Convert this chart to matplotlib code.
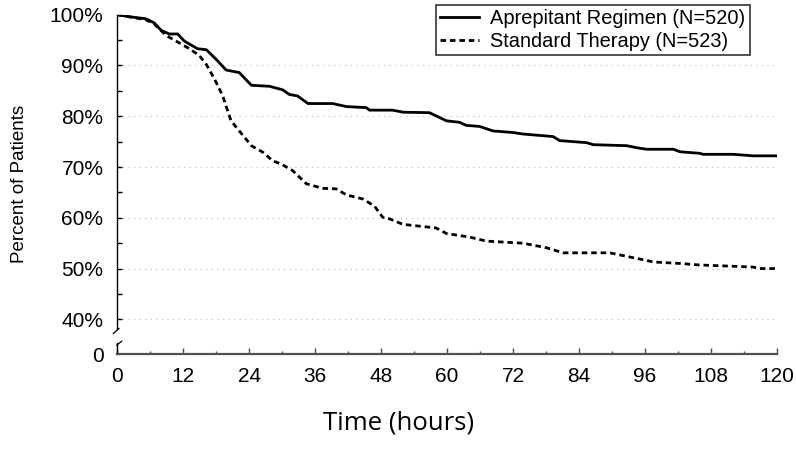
import matplotlib
matplotlib.use("Agg")
import matplotlib.pyplot as plt
from matplotlib.ticker import FixedLocator, MultipleLocator

# ---- data ----
apr_t = [0, 2.2, 5.2, 6.7, 8.0, 9.5, 11.0, 12.2, 14.6, 16.2, 18.0, 19.8, 22.2, 24.4,
         27.7, 30.1, 31.3, 32.8, 34.7, 39.2, 41.7, 45.3, 45.9, 50.1, 52.0, 56.8, 59.9,
         62.3, 63.5, 65.9, 68.4, 72.0, 73.8, 79.3, 80.5, 85.4, 86.6, 92.7, 94.5, 96.3,
         101.2, 102.4, 106.0, 106.6, 112.1, 113.3, 115.7, 120]
apr_v = [100, 99.6, 99.2, 98.4, 96.9, 96.2, 96.2, 94.8, 93.3, 93.1, 91.2, 89.1, 88.6, 86.1,
         85.9, 85.2, 84.3, 84.0, 82.5, 82.5, 81.9, 81.7, 81.2, 81.2, 80.8, 80.7, 79.1,
         78.8, 78.2, 78.0, 77.1, 76.8, 76.5, 76.0, 75.2, 74.8, 74.4, 74.2, 73.8, 73.5,
         73.5, 73.0, 72.7, 72.5, 72.5, 72.4, 72.2, 72.2]

std_t = [0, 5.2, 6.7, 8.9, 10.7, 12.8, 14.9, 16.2, 17.7, 19.2, 19.8, 20.7, 22.2, 24.4,
         26.5, 28.3, 29.8, 31.9, 34.4, 37.4, 39.8, 41.7, 44.7, 46.8, 48.3, 49.5, 52.0,
         58.0, 59.9, 64.1, 67.2, 73.8, 78.1, 81.1, 89.6, 92.7, 96.3, 97.5, 102.4, 106.0,
         115.7, 116.9, 120]
std_v = [100, 99.0, 98.2, 95.9, 94.8, 93.5, 92.0, 90.2, 87.3, 84.0, 82.0, 79.1, 77.1, 74.2,
         72.9, 71.2, 70.6, 69.3, 66.7, 65.8, 65.7, 64.5, 63.7, 62.3, 60.1, 59.8, 58.7,
         58.0, 56.9, 56.2, 55.4, 55.0, 54.1, 53.1, 53.1, 52.4, 51.6, 51.3, 51.0, 50.7,
         50.3, 50.0, 50.0]

labels = ["Aprepitant Regimen (N=520)", "Standard Therapy (N=523)"]
x_ticks = [0, 12, 24, 36, 48, 60, 72, 84, 96, 108, 120]
y_ticks = [40, 50, 60, 70, 80, 90, 100]
y_tick_labels = ["40%", "50%", "60%", "70%", "80%", "90%", "100%"]

# ---- figure ----
plt.rcParams["font.family"] = ["Liberation Sans", "DejaVu Sans"]
fig = plt.figure(figsize=(7.96, 4.54), dpi=100)
AX_L, AX_W = 117.3, 659.4
ax = fig.add_axes([AX_L / 796, 1 - 354 / 454, AX_W / 796, 339.3 / 454])

Y_ZERO = 33.17  # plotting position of the broken-axis "0"
ax.set_xlim(0, 120)
ax.set_ylim(Y_ZERO, 100)

# grid lines
for g in [40, 50, 60, 70, 80, 90]:
    ax.axhline(g, color="#bdbdbd", lw=0.8, ls=(0, (1, 4)), zorder=0)

l1, = ax.plot(apr_t, apr_v, color="black", lw=2.0, zorder=3)
l2, = ax.plot(std_t, std_v, color="black", lw=2.0, ls=(0, (2.0, 1.4)), zorder=3)

# ticks
ax.yaxis.set_major_locator(FixedLocator([Y_ZERO] + y_ticks))
ax.set_yticklabels(["0"] + y_tick_labels)
ax.yaxis.set_minor_locator(FixedLocator([45, 55, 65, 75, 85, 95]))
ax.xaxis.set_major_locator(FixedLocator(x_ticks))
ax.set_xticklabels([str(v) for v in x_ticks])
ax.xaxis.set_minor_locator(MultipleLocator(6))
ax.tick_params(axis="y", which="both", direction="in", length=3.5, width=1,
               labelsize=15, pad=10)
ax.tick_params(axis="x", which="major", direction="in", length=4, width=1,
               color="#505050", labelsize=15, pad=9)
ax.tick_params(axis="x", which="minor", direction="in", length=2.5, width=1,
               color="#505050")
ax.yaxis.get_major_ticks()[0].tick1line.set_visible(False)

for s in ["top", "right"]:
    ax.spines[s].set_visible(False)
ax.spines["bottom"].set_color("#505050")
ax.spines["bottom"].set_linewidth(1.6)
ax.spines["left"].set_linewidth(1.0)
ax.spines["left"].set_bounds(38.1, 100)

# broken-axis pieces
ax.plot([0, 0], [Y_ZERO, 35.4], color="black", lw=1.0, clip_on=False)
ax.plot([-0.73, 0.31], [37.2, 38.2], color="black", lw=0.9, clip_on=False)
ax.plot([-0.1, 0.8], [34.9, 35.7], color="black", lw=0.9, clip_on=False)

ax.set_ylabel("Percent of Patients", fontsize=13.5)
ax.yaxis.set_label_coords((28 - AX_L) / AX_W, 0.5)

fig.text(399 / 796, 1 - 423 / 454, "Time (hours)", ha="center", va="center",
         fontsize=18.5, family=["Open Sans", "DejaVu Sans"])

leg = ax.legend([l1, l2], labels, loc="upper right",
                bbox_to_anchor=(750 / 796, 1 - 4.7 / 454),
                bbox_transform=fig.transFigure, frameon=True, fancybox=False,
                edgecolor="black", fontsize=14.4, handlelength=1.95,
                handletextpad=0.55, borderpad=0.22, labelspacing=0.18,
                borderaxespad=0)
leg.get_frame().set_linewidth(1.2)

fig.savefig("out.png", dpi=100)
